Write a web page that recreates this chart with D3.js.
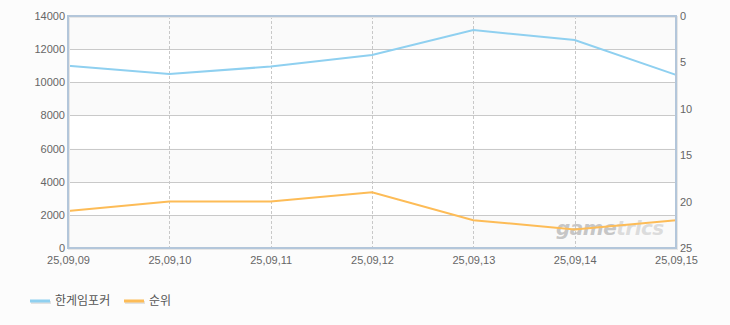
<!DOCTYPE html>
<html>
<head>
<meta charset="utf-8">
<script src="https://cdn.jsdelivr.net/npm/d3@7"></script>
<style>
  body { margin: 0; background: #fcfcfc; }
  svg { display: block; font-family: "Liberation Sans", Arial, sans-serif; }
  .tick text { fill: #666; font-size: 11px; }
</style>
</head>
<body>
<script>
const dates = ["25,09,09", "25,09,10", "25,09,11", "25,09,12", "25,09,13", "25,09,14", "25,09,15"];
const players = [11000, 10500, 10950, 11650, 13150, 12550, 10450];
const ranks = [21, 20, 20, 19, 22, 23, 22];
const leftTicks = [0, 2000, 4000, 6000, 8000, 10000, 12000, 14000];
const rightTicks = [0, 5, 10, 15, 20, 25];
const seriesNames = ["한게임포커", "순위"];
const seriesColors = ["#8fd0f0", "#fdbc57"];

const W = 730, H = 325;
const margin = {top: 16, right: 54, bottom: 77, left: 68};
const w = W - margin.left - margin.right;
const h = H - margin.top - margin.bottom;

const svg = d3.select("body").append("svg")
  .attr("width", W)
  .attr("height", H);

const x = d3.scalePoint().domain(dates).range([margin.left, margin.left + w]);
const y = d3.scaleLinear().domain([0, 14000]).range([margin.top + h, margin.top]);
const yR = d3.scaleLinear().domain([0, 25]).range([margin.top, margin.top + h]);

// alternating bands
const bands = leftTicks.slice(0, -1);
svg.selectAll(".band")
  .data(bands)
  .enter()
  .append("rect")
  .attr("x", margin.left)
  .attr("y", d => y(d + 2000))
  .attr("width", w)
  .attr("height", d => y(d) - y(d + 2000))
  .attr("fill", (d, i) => (bands.length - 1 - i) % 2 === 0 ? "#fafafa" : "#ffffff");

// horizontal grid
svg.selectAll(".hgrid")
  .data(leftTicks)
  .enter()
  .append("line")
  .attr("x1", margin.left).attr("x2", margin.left + w)
  .attr("y1", d => Math.round(y(d)) + 0.5).attr("y2", d => Math.round(y(d)) + 0.5)
  .attr("stroke", "#c9c9c9");

// vertical dashed grid
svg.selectAll(".vgrid")
  .data(dates.slice(1, -1))
  .enter()
  .append("line")
  .attr("x1", d => Math.round(x(d)) + 0.5).attr("x2", d => Math.round(x(d)) + 0.5)
  .attr("y1", margin.top).attr("y2", margin.top + h)
  .attr("stroke", "#c8c8c8")
  .attr("stroke-dasharray", "3,2");

// watermark
const wm = svg.append("text")
  .attr("x", 556).attr("y", 235)
  .style("font-family", "'DejaVu Sans', sans-serif")
  .style("font-size", "20px")
  .style("font-weight", "bold")
  .style("font-style", "italic")
  .style("letter-spacing", "-0.5px");
wm.append("tspan").attr("fill", "#b8b8b8").attr("fill-opacity", 0.8).text("game");
wm.append("tspan").attr("fill", "#d4d4d4").attr("fill-opacity", 0.8).text("trics");

// lines
const line1 = d3.line().x((d, i) => x(dates[i])).y(d => y(d));
const line2 = d3.line().x((d, i) => x(dates[i])).y(d => yR(d));

svg.append("path")
  .datum(players)
  .attr("fill", "none")
  .attr("stroke", seriesColors[0])
  .attr("stroke-width", 2)
  .attr("d", line1);

svg.append("path")
  .datum(ranks)
  .attr("fill", "none")
  .attr("stroke", seriesColors[1])
  .attr("stroke-width", 2)
  .attr("d", line2);

// frame
svg.append("rect")
  .attr("x", margin.left + 1).attr("y", margin.top + 1)
  .attr("width", w).attr("height", h)
  .attr("fill", "none")
  .attr("stroke", "#e6e6e6")
  .attr("stroke-width", 2);
svg.append("rect")
  .attr("x", margin.left).attr("y", margin.top)
  .attr("width", w).attr("height", h)
  .attr("fill", "none")
  .attr("stroke", "#b3c6da")
  .attr("stroke-width", 2);

// axes
const yAxis = d3.axisLeft(y).tickValues(leftTicks).tickFormat(d3.format("d")).tickSize(0).tickPadding(3);
svg.append("g")
  .attr("transform", `translate(${margin.left},0)`)
  .call(yAxis)
  .call(g => g.select(".domain").remove());

const yAxisR = d3.axisRight(yR).tickValues(rightTicks).tickSize(0).tickPadding(4);
svg.append("g")
  .attr("transform", `translate(${margin.left + w},0)`)
  .call(yAxisR)
  .call(g => g.select(".domain").remove());

const xAxis = d3.axisBottom(x).tickSize(0).tickPadding(8);
svg.append("g")
  .attr("transform", `translate(0,${margin.top + h})`)
  .call(xAxis)
  .call(g => g.select(".domain").remove());

// legend
const legend = svg.selectAll(".legend")
  .data(seriesNames)
  .enter()
  .append("g")
  .attr("class", "legend")
  .attr("transform", (d, i) => `translate(${30 + i * 94}, 301)`);

legend.append("line")
  .attr("x1", 1).attr("x2", 21).attr("y1", 1.5).attr("y2", 1.5)
  .attr("stroke", "#e2e2e2")
  .attr("stroke-width", 3);
legend.append("line")
  .attr("x1", 0).attr("x2", 20).attr("y1", 0).attr("y2", 0)
  .attr("stroke", (d, i) => seriesColors[i])
  .attr("stroke-width", 3);
legend.append("text")
  .attr("x", 25).attr("y", 4)
  .attr("fill", "#555")
  .style("font-family", "'Noto Sans CJK KR', sans-serif")
  .style("font-size", "12px")
  .text(d => d);
</script>
</body>
</html>
